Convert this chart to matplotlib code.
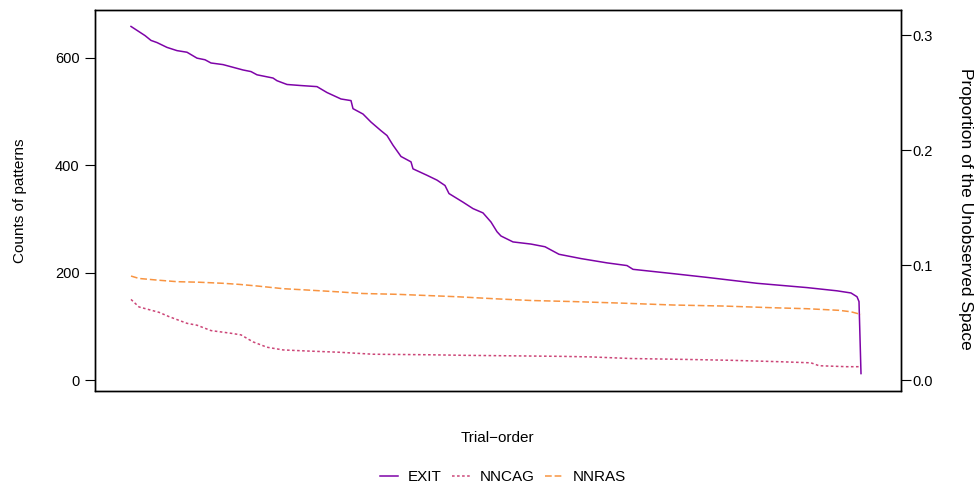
import matplotlib
matplotlib.use("Agg")
import matplotlib.pyplot as plt
from matplotlib.lines import Line2D

plt.rcParams['font.family'] = ['Liberation Sans', 'DejaVu Sans']

# Trial-order index and counts for each method
exit_x = [1, 8, 11, 14, 19, 24, 29, 34, 38, 41, 47, 52, 57, 61, 64, 72, 74, 79, 86, 94,
          99, 106, 111, 112, 117, 121, 126, 129, 132, 136, 141, 142, 149, 154, 158, 160,
          167, 172, 177, 181, 184, 186, 192, 201, 208, 211, 215, 226, 239, 249, 252, 272,
          289, 314, 339, 354, 361, 364, 365, 366]
exit_y = [658, 641, 632, 628, 619, 613, 610, 599, 596, 590, 587, 582, 577, 574, 568, 562,
          557, 550, 548, 546, 535, 523, 520, 505, 495, 480, 464, 455, 437, 416, 406, 393,
          381, 372, 362, 347, 331, 319, 311, 294, 276, 268, 257, 253, 248, 242, 234, 226,
          218, 213, 206, 198, 191, 180, 172, 166, 162, 155, 146, 12]

nncag_x = [1, 5, 11, 15, 20, 29, 34, 41, 51, 56, 62, 69, 77, 89, 105, 122, 150, 167, 192,
           217, 231, 251, 276, 301, 326, 341, 345, 359, 366]
nncag_y = [150, 136, 130, 126, 118, 105.5, 102, 92, 87, 84, 71, 61, 56, 54, 51.7, 48, 47,
           46, 45, 44, 43, 40, 38.5, 36.7, 34, 32, 26.6, 24.8, 24.8]

nnras_x = [1, 5, 14, 24, 35, 47, 55, 64, 77, 89, 105, 117, 134, 164, 184, 201, 222, 247,
           272, 297, 322, 339, 355, 361, 366]
nnras_y = [193.5, 189, 186, 183, 182, 180, 178, 175, 170, 167.5, 164, 161, 159.5, 155, 151,
           148, 146, 143, 139.6, 137.7, 134.5, 132.7, 129.7, 127, 122]

left_ticks = [0, 200, 400, 600]
right_ticks = [0.0, 0.1, 0.2, 0.3]
right_tick_labels = ["0.0", "0.1", "0.2", "0.3"]
series_names = ["EXIT", "NNCAG", "NNRAS"]
colors = ["#7E03A8", "#CC4678", "#F89441"]

fig = plt.figure(figsize=(9.77, 4.86), dpi=100)
ax = fig.add_axes([95 / 977, 1 - 390.5 / 486, (900.7 - 95) / 977, (390.5 - 10) / 486])

lw = 1.1
ax.plot(exit_x, exit_y, color=colors[0], lw=lw, solid_joinstyle='round')
ax.plot(nncag_x, nncag_y, color=colors[1], lw=lw, dashes=(1.7, 1.6))
ax.plot(nnras_x, nnras_y, color=colors[2], lw=lw, dashes=(4.4, 1.9))

ax.set_xlim(-17, 385.85)
ax.set_ylim(-19.5, 688.6)
ax.set_xticks([])
ax.set_yticks(left_ticks)
ax.set_yticklabels([str(t) for t in left_ticks])
ax.tick_params(axis='y', direction='out', length=7.2, width=0.8, labelsize=10.5, pad=4)
for sp in ax.spines.values():
    sp.set_linewidth(1.0)
ax.set_ylabel("Counts of patterns", fontsize=11, labelpad=20)
ax.set_xlabel("Trial\u2212order", fontsize=11, labelpad=29)

ax2 = ax.twinx()
ax2.set_ylim(-0.0087, 0.3219)
ax2.set_yticks(right_ticks)
ax2.set_yticklabels(right_tick_labels)
ax2.tick_params(axis='y', direction='out', length=7.2, width=0.8, labelsize=10.5, pad=1.5)
ax2.set_ylabel("Proportion of the Unobserved Space", fontsize=12.5, rotation=270,
               va='center', ha='center')
ax2.yaxis.set_label_coords((965 - 95) / (900.7 - 95), 1 - (209 - 10) / 380.5)
for sp in ax2.spines.values():
    sp.set_linewidth(1.0)

handles = [
    Line2D([], [], color=colors[0], lw=lw),
    Line2D([], [], color=colors[1], lw=lw, dashes=(1.7, 1.6)),
    Line2D([], [], color=colors[2], lw=lw, dashes=(4.4, 1.9)),
]
fig.legend(handles, series_names, loc='center', bbox_to_anchor=(503 / 977, 1 - 477 / 486),
           ncol=3, frameon=False, fontsize=11, handlelength=1.2, handletextpad=0.65,
           columnspacing=0.65)

fig.savefig("out.png", dpi=100)
